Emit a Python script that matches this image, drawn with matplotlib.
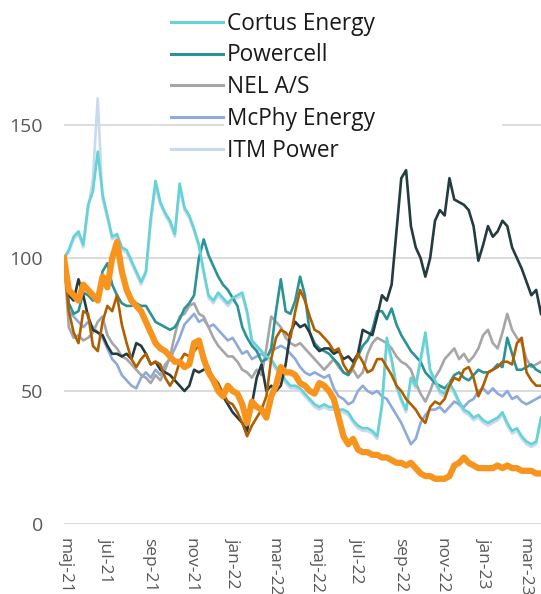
import numpy as np
import pandas as pd
import matplotlib
matplotlib.use("Agg")
import matplotlib.pyplot as plt
from matplotlib.lines import Line2D
from matplotlib.patches import Rectangle

plt.rcParams['font.family'] = ['Open Sans', 'DejaVu Sans']

# weekly observations (index, start = 100)
start_date = "2021-05-03"
n_weeks = 100

cortus = [100,103,108,110,105,120,125,140,124,116,
          108,109,104,103,99,95,91,95,115,129,
          121,117,114,109,128,119,116,111,105,95,
          86,84,87,85,83,85,86,87,80,69,
          67,65,63,62,59,57,54,52,52,51,
          49,47,45,44,45,44,44,43,43,42,
          39,37,36,36,35,33,45,70,62,52,
          47,43,55,52,62,72,58,54,50,49,
          53,50,46,43,42,40,41,39,38,39,
          40,42,38,35,36,33,31,30,31,40]

powercell = [100,83,79,80,87,86,84,85,95,98,
             90,86,83,82,82,83,82,82,79,76,
             75,74,73,74,77,81,83,86,100,107,
             101,97,93,90,88,85,82,74,70,67,
             65,61,62,66,80,92,80,79,84,93,
             86,72,68,66,65,64,62,60,57,56,
             60,63,67,69,73,80,80,77,81,75,
             71,68,65,63,61,57,55,53,52,51,
             53,56,57,55,54,56,58,57,57,58,
             60,59,70,64,58,58,59,60,58,57]

nel = [100,74,70,71,69,70,72,76,78,71,
       68,66,63,62,60,58,56,55,53,56,
       54,58,63,71,78,79,82,83,79,78,
       74,70,67,65,63,63,61,58,57,55,
       58,56,66,78,76,74,70,68,67,68,
       66,64,62,60,58,60,62,59,57,56,
       58,55,57,64,68,70,69,68,66,63,
       61,60,58,53,49,46,50,55,58,62,
       64,66,62,64,61,63,66,71,73,68,
       66,72,79,73,70,68,62,59,60,61]

mcphy = [100,80,78,76,74,76,74,72,70,66,
         62,60,56,54,52,51,55,57,55,58,
         56,60,62,66,70,75,77,79,76,77,
         74,75,73,71,69,70,67,64,65,62,
         63,64,63,65,66,67,66,64,62,59,
         57,56,57,56,55,56,51,48,47,45,
         46,50,52,50,49,50,48,47,44,41,
         38,34,30,32,38,41,43,43,44,42,
         44,46,45,44,46,47,50,51,49,51,
         49,48,50,47,48,46,45,46,47,48]

itm = [100,102,107,109,104,118,130,160,122,115,
       107,108,103,102,98,94,90,94,113,127,
       120,116,113,108,126,118,115,110,104,94,
       85,83,86,84,82,84,85,86,79,68,
       66,64,62,61,58,56,53,51,51,50,
       48,46,44,43,44,43,43,42,42,41,
       38,36,35,35,34,32,44,68,61,51,
       46,42,54,51,61,70,57,53,49,48,
       52,49,45,42,41,39,40,38,37,38,
       39,41,37,34,35,32,30,29,30,39]

dark = [100,86,84,92,86,78,73,72,71,67,
        64,64,63,64,62,68,67,64,60,61,
        58,57,56,54,52,50,52,58,57,58,
        59,54,52,48,45,42,40,38,35,45,
        55,60,50,52,50,52,60,72,76,74,
        75,72,67,65,66,66,64,65,62,63,
        61,64,73,72,71,78,86,84,90,110,
        130,133,112,104,100,93,100,114,118,116,
        130,122,121,120,118,112,99,105,112,108,
        110,114,112,104,100,96,91,86,88,79]

brown = [100,80,72,68,80,79,67,65,76,82,
         80,86,75,68,62,59,62,64,60,61,
         60,55,52,55,61,64,63,65,67,64,
         58,55,53,49,46,45,42,38,33,37,
         40,43,48,62,70,73,72,70,80,88,
         84,78,73,72,70,68,65,66,60,57,
         59,64,61,57,58,62,62,59,56,52,
         50,47,45,43,40,38,44,46,45,47,
         52,55,54,58,59,55,48,52,57,58,
         59,61,61,60,68,70,57,54,52,52]

orange = [100,88,86,84,90,88,86,84,93,89,
          100,106,95,88,84,82,80,76,72,68,
          66,65,63,61,61,59,60,68,69,62,
          57,54,50,48,52,50,49,45,38,46,
          44,43,40,48,52,59,57,57,56,53,
          52,50,49,53,52,50,47,40,33,30,
          32,28,27,27,26,26,25,25,24,23,
          23,22,23,21,19,18,18,17,17,17,
          18,22,23,25,23,22,21,21,21,21,
          22,21,22,21,21,20,20,20,19,19]

tick_labels = ["maj-21", "jul-21", "sep-21", "nov-21", "jan-22", "mar-22",
               "maj-22", "jul-22", "sep-22", "nov-22", "jan-23", "mar-23"]
y_ticks = [0, 50, 100, 150]

dates = pd.date_range(start_date, periods=n_weeks, freq="7D")
tick_dates = [pd.Timestamp(start_date) + pd.DateOffset(months=2 * k) for k in range(len(tick_labels))]

W, H = 541, 594
fig = plt.figure(figsize=(W / 100, H / 100), dpi=100)
ax = fig.add_axes([64 / W, 70 / H, 1 - 64 / W, 524 / H])

series = [
    ("ITM Power", itm, "#c9d9ef", 1.9),
    ("McPhy Energy", mcphy, "#8eaadb", 1.9),
    ("NEL A/S", nel, "#a6a6a6", 1.9),
    ("Powercell", powercell, "#2a9396", 1.9),
    ("Cortus Energy", cortus, "#63d3d6", 1.9),
    ("Serie 6", dark, "#243b3f", 1.9),
    ("Serie 7", brown, "#b05f00", 1.9),
    ("Serie 8", orange, "#f7941d", 4.5),
]
colors = {}
for name, vals, col, lw in series:
    ax.plot(dates, vals, color=col, lw=lw, solid_joinstyle="round", zorder=2)
    colors[name] = col

ax.set_ylim(0, 197)
ax.set_xlim(pd.Timestamp(start_date), pd.Timestamp("2023-03-27"))
ax.set_yticks(y_ticks)
ax.set_yticklabels([str(v) for v in y_ticks])
ax.set_xticks(tick_dates)
ax.set_xticklabels(tick_labels, rotation=-90, ha="center", va="top")
ax.grid(axis="y", color="#d9d9d9", lw=1.3)
ax.set_axisbelow(True)
for s in ax.spines.values():
    s.set_visible(False)
ax.tick_params(axis="y", length=0, pad=15, labelsize=14, labelcolor="#595959")
ax.tick_params(axis="x", length=0, pad=10, labelsize=12.5, labelcolor="#595959")

# white legend background box (covers the gridline behind the legend text)
ax.add_patch(Rectangle((224 / W, 1 - 162 / H), (502 - 224) / W, 157 / H,
                       transform=fig.transFigure, facecolor="white",
                       edgecolor="none", zorder=1))

legend_names = ["Cortus Energy", "Powercell", "NEL A/S", "McPhy Energy", "ITM Power"]
leg_handles = [Line2D([], [], color=colors[n], lw=2.2) for n in legend_names]
leg = ax.legend(leg_handles, legend_names, loc="upper left",
                bbox_to_anchor=(166 / W, 1 - 7 / H), bbox_transform=fig.transFigure,
                frameon=False, fontsize=16.3, handlelength=2.3, handletextpad=0.18,
                labelspacing=0.35, borderpad=0.2, borderaxespad=0)
for t in leg.get_texts():
    t.set_color("#1a1a1a")

fig.savefig("out.png", dpi=100)
